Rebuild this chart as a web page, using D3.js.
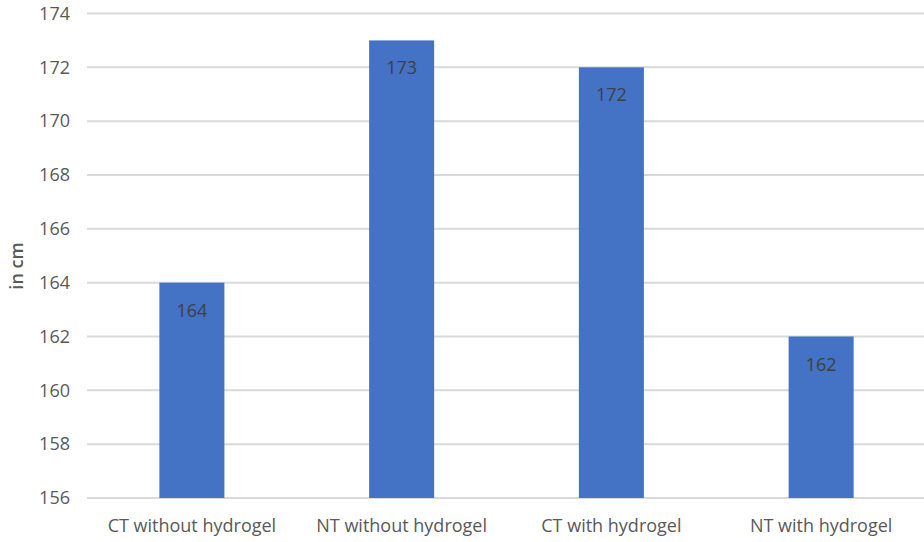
<!DOCTYPE html>
<html>
<head>
<meta charset="utf-8">
<script src="https://cdn.jsdelivr.net/npm/d3@7"></script>
<style>
  html, body { margin: 0; padding: 0; background: #fff; }
  svg { display: block; font-family: "Open Sans", "Noto Sans", sans-serif; }
</style>
</head>
<body>
<svg id="chart" width="924" height="542"></svg>
<script>
// Plant height per treatment
const categories = ["CT without hydrogel", "NT without hydrogel", "CT with hydrogel", "NT with hydrogel"];
const heights = [164, 173, 172, 162];
const yTicks = [156, 158, 160, 162, 164, 166, 168, 170, 172, 174];
const yTitle = "in cm";

const svg = d3.select("#chart");
const plotLeft = 87, plotRight = 926, plotTop = 13.5, plotBottom = 498;

const x = d3.scaleBand()
  .domain(categories)
  .range([plotLeft, plotRight])
  .paddingInner(0.69)
  .paddingOuter(0.345);

const y = d3.scaleLinear()
  .domain([156, 174])
  .range([plotBottom, plotTop]);

// Horizontal gridlines
svg.append("g")
  .selectAll("line")
  .data(yTicks)
  .join("line")
  .attr("x1", plotLeft)
  .attr("x2", 924)
  .attr("y1", d => y(d))
  .attr("y2", d => y(d))
  .attr("stroke", "#d9d9d9")
  .attr("stroke-width", 2);

// Y axis tick labels
const yAxis = d3.axisLeft(y).tickValues(yTicks).tickSize(0).tickPadding(0);
const yg = svg.append("g").attr("transform", `translate(${plotLeft - 17},0)`).call(yAxis);
yg.select(".domain").remove();
yg.selectAll("text")
  .attr("fill", "#595959")
  .style("font-size", "18px")
  .style("font-family", "'Open Sans', sans-serif");

// Bars
svg.append("g")
  .selectAll("rect")
  .data(categories)
  .join("rect")
  .attr("x", d => x(d))
  .attr("width", x.bandwidth())
  .attr("y", (d, i) => y(heights[i]))
  .attr("height", (d, i) => y(156) - y(heights[i]))
  .attr("fill", "#4472c4");

// Value labels inside bars
svg.append("g")
  .selectAll("text")
  .data(categories)
  .join("text")
  .attr("x", d => x(d) + x.bandwidth() / 2)
  .attr("y", (d, i) => y(heights[i]) + 34)
  .attr("text-anchor", "middle")
  .attr("fill", "#404040")
  .style("font-size", "18px")
  .text((d, i) => heights[i]);

// Category labels
const xAxis = d3.axisBottom(x).tickSize(0).tickPadding(0);
const xg = svg.append("g").attr("transform", `translate(0,${plotBottom + 21})`).call(xAxis);
xg.select(".domain").remove();
xg.selectAll("text")
  .attr("fill", "#595959")
  .style("font-size", "18px")
  .style("font-family", "'Open Sans', sans-serif");

// Y axis title
svg.append("text")
  .attr("transform", `translate(23,266) rotate(-90)`)
  .attr("text-anchor", "middle")
  .attr("fill", "#595959")
  .style("font-size", "18px")
  .style("font-weight", "600")
  .text(yTitle);
</script>
</body>
</html>
